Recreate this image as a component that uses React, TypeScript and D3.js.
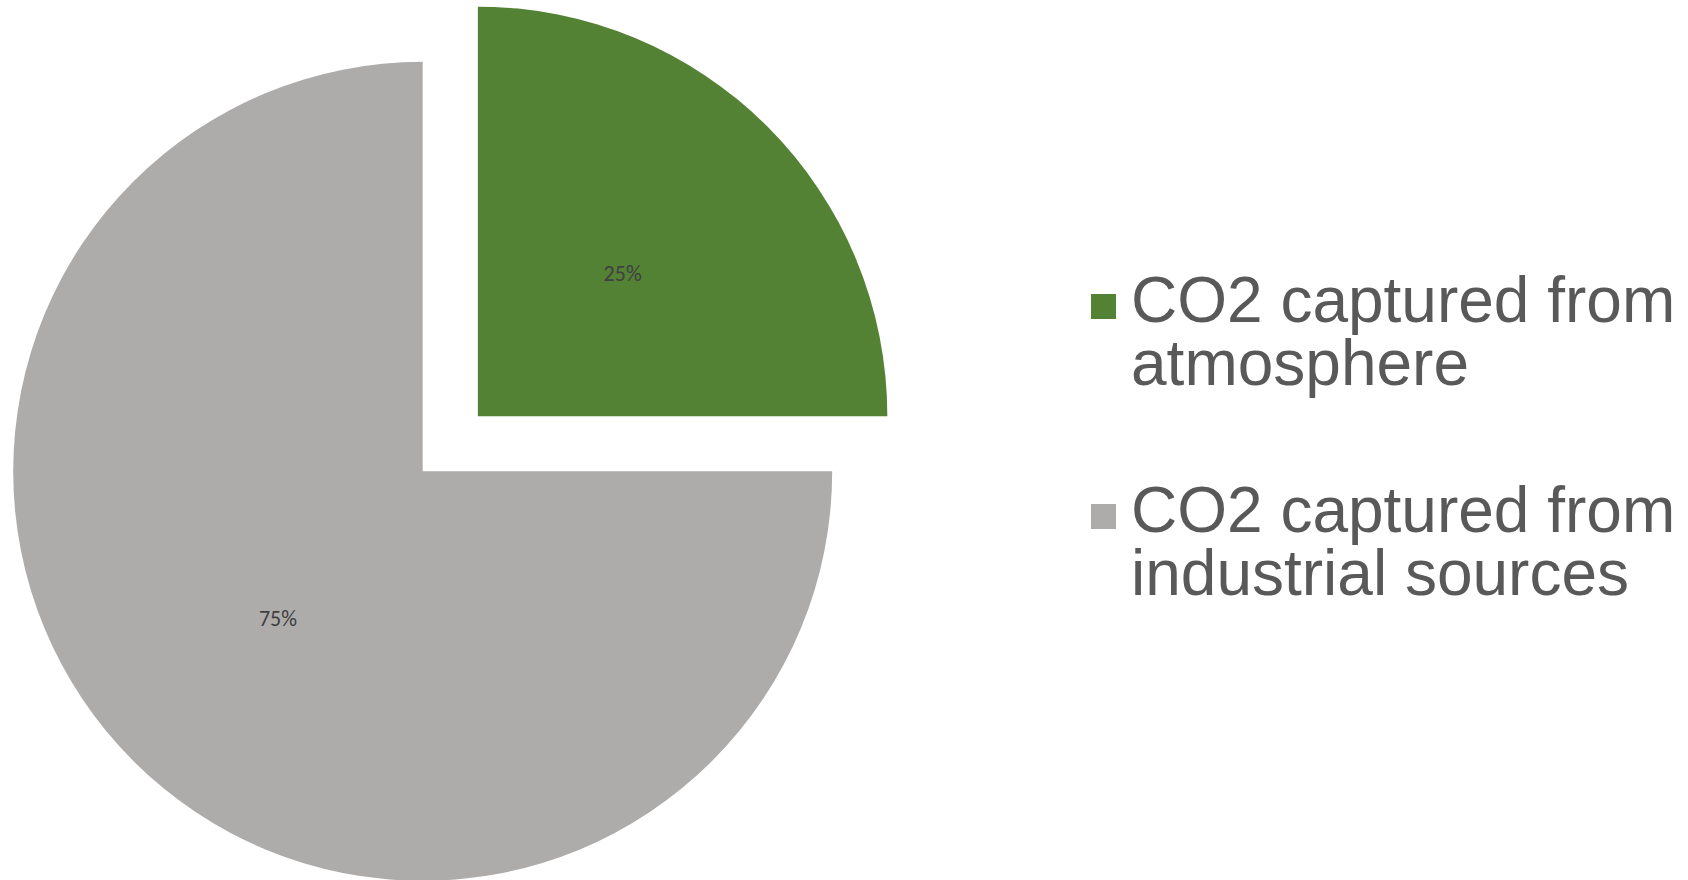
import React from "react";
import * as d3 from "d3";

const categories = ["CO2 captured from atmosphere", "CO2 captured from industrial sources"];
const legendLines = [
  ["CO2 captured from", "atmosphere"],
  ["CO2 captured from", "industrial sources"],
];
const values = [25, 75];
const colors = ["#548235", "#AEABAB"];
const explodeIndex = 0;

const W = 1688;
const H = 880;

export default function App() {
  const cx = 422.7;
  const cy = 471.3;
  const r = 409.5;
  const explode = 78;
  const total = d3.sum(values);
  const pie = d3.pie<number>().sort(null).value((d) => d)(values);
  const arc = d3.arc<d3.PieArcDatum<number>>().innerRadius(0).outerRadius(r);

  return (
    <div style={{ position: "absolute", left: 0, top: 0 }}>
      <svg width={W} height={H} style={{ display: "block", background: "#fff" }}>
        <g transform={`translate(${cx},${cy})`}>
          {pie.map((p, i) => {
            const mid = (p.startAngle + p.endAngle) / 2;
            const off = i === explodeIndex ? explode : 0;
            const dx = off * Math.sin(mid);
            const dy = -off * Math.cos(mid);
            const [lx, ly] = arc.centroid(p);
            return (
              <g key={categories[i]} transform={`translate(${dx},${dy})`}>
                <path d={arc(p) || ""} fill={colors[i]} />
                <text
                  x={lx}
                  y={ly + 2}
                  textAnchor="middle"
                  dominantBaseline="central"
                  fontFamily="Carlito, Lato, 'Open Sans', sans-serif"
                  fontSize={22}
                  fill="#404040"
                >
                  {`${Math.round((values[i] / total) * 100)}%`}
                </text>
              </g>
            );
          })}
        </g>
        {legendLines.map((lines, i) => {
          const base = 322 + i * 210;
          return (
            <g key={categories[i]}>
              <rect x={1091} y={base - 28} width={25} height={25} fill={colors[i]} />
              <text
                x={1131}
                y={base}
                fontFamily="'Liberation Sans', Arial, Helvetica, sans-serif"
                fontSize={64}
                fill="#595959"
              >
                {lines.map((ln, j) => (
                  <tspan key={j} x={1131} dy={j === 0 ? 0 : 63}>
                    {ln}
                  </tspan>
                ))}
              </text>
            </g>
          );
        })}
      </svg>
    </div>
  );
}
